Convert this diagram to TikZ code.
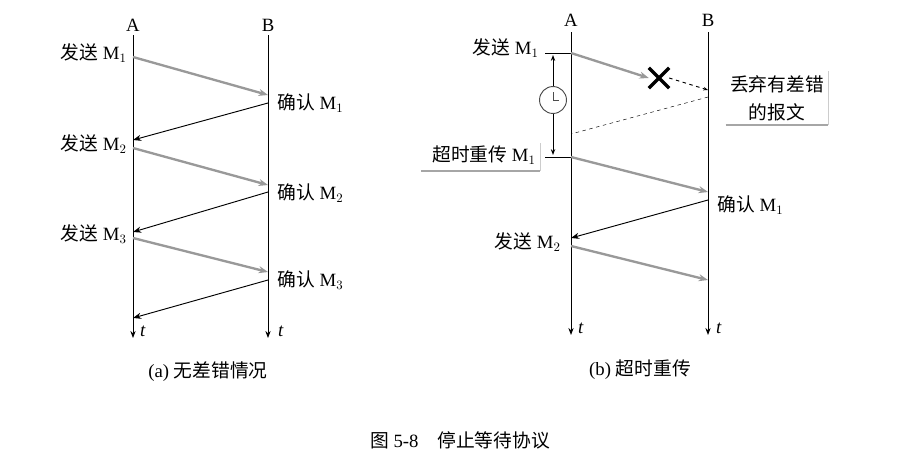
\documentclass[tikz,border=0pt]{standalone}
\usepackage{fontspec}
\setmainfont{Liberation Serif}
\newfontfamily\cjk{Noto Sans CJK SC}
\usetikzlibrary{arrows.meta,calc}
\begin{document}
\begin{tikzpicture}[x=0.03cm,y=-0.03cm,font=\fontsize{16}{20}\selectfont]
    \tikzset{timeline/.style={draw=black,thick,-{Stealth[length=6pt]}}}
    \tikzset{datamsg/.style={draw=black!40,line width=2pt,-{Stealth[length=8pt]}}}
    \tikzset{ackmsg/.style={draw=black,thick,-{Stealth[length=7pt]}}}
    \tikzset{lost/.style={draw=black,dashed,thick}}
    \tikzset{lbl/.style={inner sep=1pt}}
    \useasboundingbox (0,0) rectangle (903,471);

    % (a) no errors
    \node (Aa) at (133,25) {A};
    \node (Ba) at (268,25) {B};
    \coordinate (Aa-top) at (133,35); \coordinate (Aa-end) at (133,338);
    \coordinate (Ba-top) at (268,35); \coordinate (Ba-end) at (268,338);
    \draw[timeline] (Aa-top) -- (Aa-end);
    \draw[timeline] (Ba-top) -- (Ba-end);
    \node at (143,331) {\textit{t}};
    \node at (281,331) {\textit{t}};
    \foreach \i/\ys/\yr/\yb/\ya in {1/57/95/103/140,2/148/185/192/232,3/238/272/280/318}{
        \coordinate (a-s\i) at (133,\ys); \coordinate (b-r\i) at (268,\yr);
        \coordinate (b-s\i) at (268,\yb); \coordinate (a-r\i) at (133,\ya);
        \draw[datamsg] (a-s\i) -- (b-r\i);
        \draw[ackmsg] (b-s\i) -- (a-r\i);
        \node[lbl,anchor=east] (send-\i) at (128,\ys-4) {{\cjk 发送} M$_\i$};
        \node[lbl,anchor=west] (ack-\i) at (276,\yr+8) {{\cjk 确认} M$_\i$};
    }
    \node (capa) at (208,372) {(a) {\cjk 无差错情况}};

    % (b) timeout and retransmission
    \node (Ab) at (571,20) {A};
    \node (Bb) at (708,20) {B};
    \coordinate (Ab-top) at (571,32); \coordinate (Ab-end) at (571,335);
    \coordinate (Bb-top) at (708,32); \coordinate (Bb-end) at (708,335);
    \draw[timeline] (Ab-top) -- (Ab-end);
    \draw[timeline] (Bb-top) -- (Bb-end);
    \node at (581,328) {\textit{t}};
    \node at (719,328) {\textit{t}};

    \coordinate (s1) at (571,53); \coordinate (s1-bar) at (545,53);
    \coordinate (t1) at (571,157); \coordinate (t1-bar) at (545,157);
    \draw[thick] (s1-bar) -- (s1);
    \draw[thick] (t1-bar) -- (t1);
    \node[lbl,anchor=east] (send-b1) at (540,48) {{\cjk 发送} M$_1$};
    \node[circle,draw=black!70,thick,fill=white,minimum size=23pt,inner sep=0pt] (clock) at (553,100) {};
    \draw[thick,{Stealth[length=5pt]}-] (553,55) -- (clock);
    \draw[thick,-{Stealth[length=5pt]}] (clock) -- (553,155);
    \draw[black!70,thick] (clock.center) -- ++(0,-8) (clock.center) -- ++(6,0);

    \node[minimum size=17pt,inner sep=0pt] (cross) at (659,78) {};
    \draw[line width=3pt] (cross.north west) -- (cross.south east) (cross.north east) -- (cross.south west);
    \draw[datamsg] (s1) -- (cross.west);
    \coordinate (b-drop) at (708,90);
    \draw[lost,-{Stealth[length=4pt]}] (cross.east) -- (b-drop);
    \coordinate (b-ghost) at (708,97); \coordinate (a-ghost) at (571,134);
    \draw[lost,thin] (b-ghost) -- (a-ghost);

    \node[lbl,align=center,font=\fontsize{16}{24}\selectfont\cjk] (drop) at (777,98) {丢弃有差错\\的报文};
    \draw[black!35,line width=1.5pt] ($(drop.south west)+(-3,3)$) -- ($(drop.south east)+(3,3)$);
    \draw[black!20] ($(drop.south east)+(3,3)$) -- ($(drop.north east)+(3,-3)$);

    \node[lbl,anchor=east] (resend) at (537,155) {{\cjk 超时重传} M$_1$};
    \draw[black!35,line width=1.5pt] ($(resend.south west)+(-10,5)$) -- ($(resend.south east)+(3,5)$);
    \draw[black!20] ($(resend.south east)+(3,5)$) -- ++(0,-28);

    \coordinate (b-r1) at (708,192); \coordinate (b-s1) at (708,200);
    \coordinate (a-r1) at (571,238); \coordinate (a-s2) at (571,246);
    \coordinate (b-r2) at (708,280);
    \draw[datamsg] (t1) -- (b-r1);
    \draw[ackmsg] (b-s1) -- (a-r1);
    \draw[datamsg] (a-s2) -- (b-r2);
    \node[lbl,anchor=west] (ack-b1) at (716,205) {{\cjk 确认} M$_1$};
    \node[lbl,anchor=east] (send-b2) at (562,242) {{\cjk 发送} M$_2$};
    \node (capb) at (640,370) {(b) {\cjk 超时重传}};

    \node (fig) at (460,440) {{\cjk 图} 5-8\quad {\cjk 停止等待协议}};
\end{tikzpicture}
\end{document}
